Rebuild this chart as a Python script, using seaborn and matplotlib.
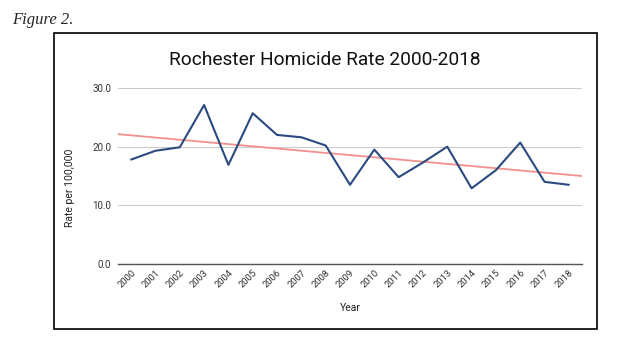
import numpy as np
import pandas as pd
import matplotlib
matplotlib.use("Agg")
import matplotlib.pyplot as plt
import seaborn as sns
from matplotlib.patches import Rectangle

# ===== DATA =====
years = list(range(2000, 2019))
rates = [17.8, 19.3, 19.9, 27.1, 16.9, 25.7, 22.0, 21.6, 20.2, 13.5,
         19.5, 14.8, 17.3, 20.0, 12.9, 16.0, 20.7, 14.0, 13.5]
y_ticks = [0.0, 10.0, 20.0, 30.0]

LINE_COLOR = "#2b4a80"
TREND_COLOR = "#f4908c"


def plot_results():
    df = pd.DataFrame({"Year": years, "Rate": rates})
    df["pos"] = np.arange(len(df))

    sns.set_theme(style="white")
    plt.rcParams["font.family"] = ["Roboto", "DejaVu Sans"]

    fig = plt.figure(figsize=(6.26, 3.54), dpi=100)
    ax = fig.add_axes([118 / 626, 1 - 264 / 354, (582 - 118) / 626, (264 - 88) / 354])

    # outer frame of the embedded chart
    fig.patches.append(Rectangle((54 / 626, 1 - 329 / 354), (597 - 54) / 626, (329 - 33) / 354,
                                 transform=fig.transFigure, fill=False,
                                 edgecolor="black", linewidth=1.2))
    fig.text(12 / 626, 1 - 20 / 354, "Figure 2.", family="Liberation Serif",
             style="italic", fontsize=12, va="center", ha="left")

    # trend line (least squares over the data), drawn across the full plot width
    xmin, xmax = -0.54, len(df) - 1 + 0.54
    k, b = np.polyfit(df["pos"], df["Rate"], 1)
    trend = pd.DataFrame({"pos": [xmin, xmax]})
    trend["Rate"] = k * trend["pos"] + b
    sns.lineplot(data=trend, x="pos", y="Rate", color=TREND_COLOR, linewidth=1.3, ax=ax)

    sns.lineplot(data=df, x="pos", y="Rate", color=LINE_COLOR, linewidth=1.5, ax=ax)

    ax.set_xlim(xmin, xmax)
    ax.set_ylim(0, 30)
    ax.set_yticks(y_ticks)
    ax.set_yticklabels([f"{v:.1f}" for v in y_ticks], fontsize=7, color="#333333")
    ax.set_xticks(df["pos"])
    ax.set_xticklabels([str(y) for y in years], rotation=45, ha="right",
                       rotation_mode="anchor", fontsize=6.8, color="#333333")
    ax.tick_params(axis="y", length=0, pad=5)
    ax.tick_params(axis="x", length=0, pad=3)

    ax.grid(axis="y", color="#cccccc", linewidth=0.8)
    ax.set_axisbelow(True)
    for s in ["top", "right", "left"]:
        ax.spines[s].set_visible(False)
    ax.spines["bottom"].set_color("#555555")
    ax.spines["bottom"].set_linewidth(1.0)

    ax.set_xlabel("Year", fontsize=7.5, color="#222222", labelpad=10)
    ax.set_ylabel("Rate per 100,000", fontsize=7.5, color="#222222")
    # place the y label like the original (a bit lower than the axes centre)
    ax.yaxis.set_label_coords((75 - 118) / (582 - 118), (264 - 188) / (264 - 88))
    fig.text(325 / 626, 1 - 60 / 354, "Rochester Homicide Rate 2000-2018",
             fontsize=13.8, ha="center", va="center", color="#111111")

    plt.savefig("out.png", dpi=100)


if __name__ == "__main__":
    plot_results()
